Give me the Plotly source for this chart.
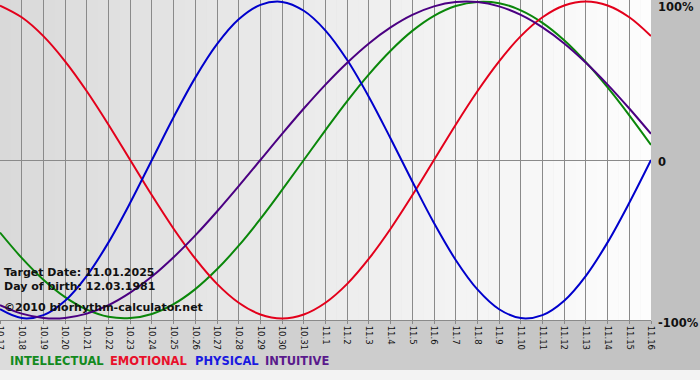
import plotly.graph_objects as go

# ---------------- data ----------------
day_labels = ["10.17", "10.18", "10.19", "10.20", "10.21", "10.22", "10.23", "10.24",
              "10.25", "10.26", "10.27", "10.28", "10.29", "10.30", "10.31",
              "11.1", "11.2", "11.3", "11.4", "11.5", "11.6", "11.7", "11.8",
              "11.9", "11.10", "11.11", "11.12", "11.13", "11.14", "11.15", "11.16"]

intellectual = [-0.458, -0.618, -0.756, -0.866, -0.945, -0.990, -0.998, -0.972, -0.910,
                -0.815, -0.690, -0.541, -0.372, -0.189, 0.000, 0.189, 0.372, 0.541,
                0.690, 0.815, 0.910, 0.972, 0.998, 0.990, 0.945, 0.866, 0.756, 0.618,
                0.458, 0.282, 0.095]

emotional = [0.975, 0.901, 0.782, 0.623, 0.434, 0.223, 0.000, -0.223, -0.434, -0.623,
             -0.782, -0.901, -0.975, -1.000, -0.975, -0.901, -0.782, -0.623, -0.434,
             -0.223, 0.000, 0.223, 0.434, 0.623, 0.782, 0.901, 0.975, 1.000, 0.975,
             0.901, 0.782]

physical = [-0.942, -0.998, -0.979, -0.888, -0.731, -0.520, -0.270, 0.000, 0.270, 0.520,
            0.731, 0.888, 0.979, 0.998, 0.942, 0.817, 0.631, 0.398, 0.136, -0.136,
            -0.398, -0.631, -0.817, -0.942, -0.998, -0.979, -0.888, -0.731, -0.520,
            -0.270, 0.000]

intuitive = [-0.916, -0.970, -0.997, -0.997, -0.970, -0.916, -0.837, -0.736, -0.614,
             -0.476, -0.325, -0.165, 0.000, 0.165, 0.325, 0.476, 0.614, 0.736, 0.837,
             0.916, 0.970, 0.997, 0.997, 0.970, 0.916, 0.837, 0.736, 0.614, 0.476,
             0.325, 0.165]

series_names = ["INTELLECTUAL", "EMOTIONAL", "PHYSICAL", "INTUITIVE"]
target_label = "11.1"
y_tick_values = [1, 0, -1]
y_tick_text = ["100%", "0", "-100%"]
info_lines = ["Target Date: 11.01.2025", "Day of birth: 12.03.1981",
              "\u00a92010 biorhythm-calculator.net"]

# ---------------- style ----------------
W, H = 700, 380
ML, MR, MT, MB = 0, 49, 0, 60
PW, PH = W - ML - MR, H - MT - MB
FONT = "DejaVu Sans"
line_colors = ["#0a870a", "#e3001b", "#0000cc", "#4b0082"]
text_colors = ["#138a1e", "#e8102a", "#1a1ae0", "#5a1a8c"]
legend_x_px = [8, 108, 193, 263]
series_values = [intellectual, emotional, physical, intuitive]


def px_x(px):
    return (px - ML) / PW


def px_y(py):
    return (H - MB - py) / PH


def gray(v):
    v = int(round(v))
    return f"rgb({v},{v},{v})"


fig = go.Figure()
for name, vals, col in zip(series_names, series_values, line_colors):
    fig.add_trace(go.Scatter(x=day_labels, y=vals, name=name, mode="lines",
                             line=dict(color=col, width=2, shape="spline", smoothing=1.0),
                             hoverinfo="skip"))

shapes = []
# outer background gradient
NB = 70
for k in range(NB):
    x0 = k * W / NB
    x1 = (k + 1) * W / NB + 0.5
    g = 220 - (220 - 192) * (k / (NB - 1))
    shapes.append(dict(type="rect", xref="paper", yref="paper",
                       x0=px_x(x0), x1=px_x(x1), y0=px_y(370), y1=px_y(0),
                       fillcolor=gray(g), line_width=0, layer="below"))
shapes.append(dict(type="rect", xref="paper", yref="paper",
                   x0=px_x(0), x1=px_x(W), y0=px_y(H), y1=px_y(370),
                   fillcolor="#f3f3f3", line_width=0, layer="below"))
# plot area gradient
n = len(day_labels) - 1
NS = n * 2
for k in range(NS):
    g = 217 + (253 - 217) * (k / (NS - 1)) ** 0.9
    shapes.append(dict(type="rect", xref="x", yref="y",
                       x0=k / 2, x1=(k + 1) / 2 + 0.02, y0=-1.01, y1=1.01,
                       fillcolor=gray(g), line_width=0, layer="below"))
# target line
ti = day_labels.index(target_label)
shapes.append(dict(type="line", xref="x", yref="paper", x0=ti, x1=ti, y0=0, y1=1,
                   line=dict(color="#8b1c1c", width=2), layer="between"))

annotations = []
for yv, yt, ys in zip(y_tick_values, y_tick_text, [-5, -2, -5]):
    annotations.append(dict(xref="paper", yref="y", x=1, y=yv, text=f"<b>{yt}</b>",
                            showarrow=False, xanchor="left", yanchor="middle",
                            xshift=5, yshift=ys,
                            font=dict(family=FONT, size=11.5, color="#111")))
for line, cy in zip(info_lines, [272, 286, 307]):
    annotations.append(dict(xref="paper", yref="paper", x=px_x(2), y=px_y(cy),
                            text=f"<b>{line}</b>", showarrow=False, xanchor="left",
                            yanchor="middle", font=dict(family=FONT, size=11, color="#111")))
for nm, c, lx in zip(series_names, text_colors, legend_x_px):
    annotations.append(dict(xref="paper", yref="paper", x=px_x(lx), y=px_y(361),
                            text=f"<b>{nm}</b>", showarrow=False, xanchor="left",
                            yanchor="middle", font=dict(family=FONT, size=11.5, color=c)))

fig.update_layout(
    width=W, height=H, autosize=False,
    margin=dict(l=ML, r=MR, t=MT, b=MB, pad=0, autoexpand=False),
    paper_bgcolor="#d0d0d0", plot_bgcolor="#e8e8e8",
    showlegend=False, shapes=shapes, annotations=annotations,
    font=dict(family=FONT),
)
fig.update_xaxes(type="category", range=[0, n], showgrid=True, gridcolor="#8a8a8a",
                 gridwidth=1, showline=True, linecolor="#8a8a8a", linewidth=1,
                 ticks="outside", ticklen=3, tickcolor="#8a8a8a", tickangle=90,
                 tickfont=dict(family=FONT, size=8.5, color="#111"), fixedrange=True,
                 automargin=False)
fig.update_yaxes(range=[-1.01, 1.01], showgrid=False, showticklabels=False,
                 zeroline=True, zerolinecolor="#8a8a8a", zerolinewidth=1, fixedrange=True,
                 automargin=False)

fig.write_html("out.html", config={"displayModeBar": False},
               post_script="document.body.style.margin='0px';document.body.style.overflow='hidden';")
